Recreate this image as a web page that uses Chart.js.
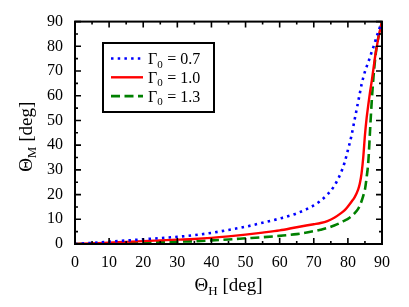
<!DOCTYPE html>
<html>
<head>
<meta charset="utf-8">
<script src="https://cdn.jsdelivr.net/npm/chart.js@4"></script>
<style>
  html, body { margin: 0; padding: 0; background: #fff; }
  #wrap { width: 409px; height: 307px; }
</style>
</head>
<body>
<div id="wrap"><canvas id="chart" width="409" height="307"></canvas></div>
<script>
// Theta_H values (deg), shared by the three curves
const thetaH = [0, 5, 10, 15, 20, 25, 30, 35, 40, 45, 50, 55, 60, 65, 70, 72, 74, 76, 78, 79, 80, 81, 82, 83, 83.5, 84, 84.5, 85, 85.5, 86, 86.5, 87, 87.5, 88, 88.5, 89, 89.5, 90];

// Theta_M values (deg)
const gamma07 = [0, 0.45, 0.95, 1.4, 1.9, 2.4, 2.9, 3.6, 4.5, 5.7, 7.0, 8.6, 10.3, 12.4, 15.6, 17.5, 20, 23.5, 29, 32.8, 38, 43.5, 50.5, 57.5, 61, 64.5, 67.3, 69.8, 71.8, 73.7, 75.7, 77.8, 79.8, 82, 84.2, 86.3, 88.2, 90];
const gamma10 = [0, 0.25, 0.55, 0.85, 1.15, 1.45, 1.75, 2.05, 2.5, 3.1, 3.8, 4.6, 5.5, 6.8, 8.0, 8.5, 9.3, 10.6, 12.5, 13.6, 15.2, 17, 19, 22, 24.5, 28.5, 35, 44, 51, 56.5, 61.5, 66, 71, 76, 80, 84, 87, 90];
const gamma13 = [0, 0.15, 0.3, 0.5, 0.65, 0.8, 0.95, 1.1, 1.45, 1.85, 2.3, 2.75, 3.3, 4.0, 5.2, 5.8, 6.5, 7.5, 8.7, 9.5, 10.2, 11.2, 12.5, 14.2, 15.5, 17.3, 19.5, 22, 27, 33.5, 46, 58, 67.5, 75, 80.5, 84, 87, 90];

const gammaLabels = ["0.7", "1.0", "1.3"];
const tickValues = [0, 10, 20, 30, 40, 50, 60, 70, 80, 90];

const serif = "'Liberation Serif', 'DejaVu Serif', serif";

const toPoints = (ys) => thetaH.map((x, i) => ({ x: x, y: ys[i] }));

const seriesStyle = [
    { color: "rgb(0,0,255)", dash: [2.5, 4.2], width: 2.6 },
    { color: "rgb(255,0,0)", dash: [], width: 2.4 },
    { color: "rgb(0,128,0)", dash: [9, 4.5], width: 2.6 }
];

const allSeries = [gamma07, gamma10, gamma13];

// frame, inward ticks, axis titles and the boxed legend
const framePlugin = {
    id: "frame",
    afterDraw(chart) {
        const ctx = chart.ctx;
        const a = chart.chartArea;
        const xs = chart.scales.x;
        const ys = chart.scales.y;
        ctx.save();
        ctx.strokeStyle = "#000";
        ctx.lineWidth = 1.6;
        for (let v = 0; v <= 90; v += 5) {
            const len = v % 10 === 0 ? 6 : 3;
            const px = xs.getPixelForValue(v);
            const py = ys.getPixelForValue(v);
            ctx.beginPath();
            ctx.moveTo(px, a.bottom); ctx.lineTo(px, a.bottom - len);
            ctx.moveTo(px, a.top); ctx.lineTo(px, a.top + len);
            ctx.moveTo(a.left, py); ctx.lineTo(a.left + len, py);
            ctx.moveTo(a.right, py); ctx.lineTo(a.right - len, py);
            ctx.stroke();
        }
        ctx.lineWidth = 2;
        ctx.strokeRect(a.left, a.top, a.right - a.left, a.bottom - a.top);

        ctx.fillStyle = "#000";
        ctx.textBaseline = "alphabetic";

        const drawSub = (main, sub, rest, x, y, size) => {
            ctx.font = size + "px " + serif;
            const w1 = ctx.measureText(main).width;
            ctx.font = Math.round(size * 0.68) + "px " + serif;
            const w2 = ctx.measureText(sub).width;
            ctx.font = size + "px " + serif;
            const w3 = ctx.measureText(rest).width;
            const total = w1 + w2 + w3;
            let cx = x - total / 2;
            ctx.textAlign = "left";
            ctx.fillText(main, cx, y);
            cx += w1;
            ctx.font = Math.round(size * 0.68) + "px " + serif;
            ctx.fillText(sub, cx, y + size * 0.2);
            cx += w2;
            ctx.font = size + "px " + serif;
            ctx.fillText(rest, cx, y);
        };
        // x title
        drawSub("\u0398", "H", " [deg]", (a.left + a.right) / 2, 291, 19);

        // y title
        ctx.save();
        ctx.translate(32, (a.top + a.bottom) / 2 + 4);
        ctx.rotate(-Math.PI / 2);
        drawSub("\u0398", "M", " [deg]", 0, 0, 19);
        ctx.restore();

        // legend box
        const lx = 103, ly = 43, lw = 111, lh = 69;
        ctx.fillStyle = "#fff";
        ctx.fillRect(lx, ly, lw, lh);
        ctx.lineWidth = 2;
        ctx.strokeStyle = "#000";
        ctx.strokeRect(lx, ly, lw, lh);
        seriesStyle.forEach((s, i) => {
            const yy = 58.5 + i * 18.8;
            ctx.save();
            ctx.strokeStyle = s.color;
            ctx.lineWidth = s.width;
            ctx.setLineDash(s.dash);
            ctx.beginPath();
            ctx.moveTo(111, yy);
            ctx.lineTo(143, yy);
            ctx.stroke();
            ctx.restore();
            ctx.fillStyle = "#000";
            ctx.textAlign = "left";
            ctx.font = "16px " + serif;
            ctx.fillText("\u0393", 148, yy + 5.5);
            const gw = ctx.measureText("\u0393").width;
            ctx.font = "11px " + serif;
            ctx.fillText("0", 148 + gw, yy + 9);
            ctx.font = "16px " + serif;
            ctx.fillText(" = " + gammaLabels[i], 148 + gw + 6, yy + 5.5);
        });
        ctx.restore();
    }
};

const ctx = document.getElementById("chart").getContext("2d");
const myChart = new Chart(ctx, {
    type: "line",
    data: {
        datasets: allSeries.map((ys, i) => ({
            label: "\u0393\u2080 = " + gammaLabels[i],
            data: toPoints(ys),
            borderColor: seriesStyle[i].color,
            borderWidth: seriesStyle[i].width,
            borderDash: seriesStyle[i].dash,
            borderCapStyle: "butt",
            pointRadius: 0,
            fill: false,
            cubicInterpolationMode: "monotone"
        }))
    },
    options: {
        responsive: false,
        animation: false,
        layout: { padding: { top: 15, right: 27, left: 0, bottom: 0 } },
        plugins: { legend: { display: false }, tooltip: { enabled: false } },
        scales: {
            x: {
                type: "linear",
                min: 0,
                max: 90,
                afterBuildTicks: (s) => { s.ticks = tickValues.map(v => ({ value: v })); },
                afterFit: (s) => { s.height = 63; },
                grid: { display: false, drawTicks: false },
                border: { display: false },
                ticks: { padding: 9, color: "#000", font: { family: serif, size: 16 } }
            },
            y: {
                type: "linear",
                min: 0,
                max: 90,
                afterBuildTicks: (s) => { s.ticks = tickValues.map(v => ({ value: v })); },
                afterFit: (s) => { s.width = 75; },
                grid: { display: false, drawTicks: false },
                border: { display: false },
                ticks: { padding: 12, color: "#000", font: { family: serif, size: 16 } }
            }
        }
    },
    plugins: [framePlugin]
});
</script>
</body>
</html>
